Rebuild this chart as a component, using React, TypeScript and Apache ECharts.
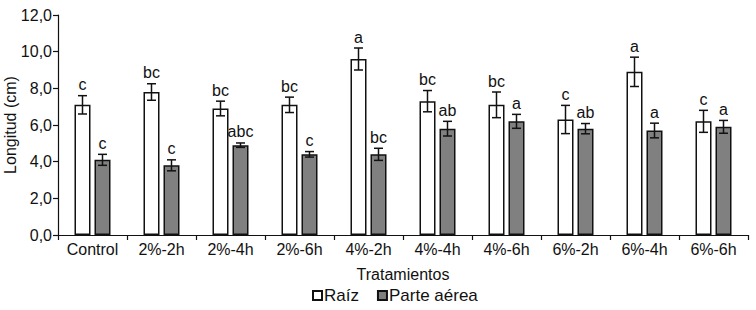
import React, { useEffect, useRef } from "react";
import * as echarts from "echarts";

const categories = ["Control", "2%-2h", "2%-4h", "2%-6h", "4%-2h", "4%-4h", "4%-6h", "6%-2h", "6%-4h", "6%-6h"];
const raiz = [7.1, 7.8, 6.9, 7.1, 9.6, 7.3, 7.1, 6.3, 8.9, 6.2];
const raizErr = [0.5, 0.45, 0.4, 0.42, 0.6, 0.58, 0.7, 0.77, 0.8, 0.6];
const raizLetters = ["c", "bc", "bc", "bc", "a", "bc", "bc", "c", "a", "c"];
const aerea = [4.1, 3.8, 4.9, 4.4, 4.4, 5.8, 6.2, 5.8, 5.7, 5.9];
const aereaErr = [0.3, 0.3, 0.12, 0.15, 0.33, 0.4, 0.38, 0.28, 0.4, 0.35];
const aereaLetters = ["c", "c", "abc", "c", "bc", "ab", "a", "ab", "a", "a"];
const yTicks = [0, 2, 4, 6, 8, 10, 12];

const FONT = "'Liberation Sans', Arial, sans-serif";
const FS = 16;
const TXT = "#111";

function errSeries(vals: number[], errs: number[], letters: string[], offset: number) {
  return {
    type: "custom",
    silent: true,
    z: 10,
    data: vals.map((v, i) => [i, v, errs[i]]),
    renderItem: (params: any, api: any) => {
      const cat = api.value(0);
      const v = api.value(1);
      const e = api.value(2);
      const x = api.coord([cat, v])[0] + offset;
      const yt = api.coord([cat, v + e])[1];
      const yb = api.coord([cat, v - e])[1];
      const cap = 4.5;
      const ls = { stroke: "#111", lineWidth: 1.5 };
      return {
        type: "group",
        children: [
          { type: "line", shape: { x1: x, y1: yt, x2: x, y2: yb }, style: ls },
          { type: "line", shape: { x1: x - cap, y1: yt, x2: x + cap, y2: yt }, style: ls },
          { type: "line", shape: { x1: x - cap, y1: yb, x2: x + cap, y2: yb }, style: ls },
          {
            type: "text",
            x: x,
            y: yt - 3,
            style: {
              text: letters[params.dataIndex],
              fontFamily: FONT,
              fontSize: FS,
              fill: TXT,
              align: "center",
              verticalAlign: "bottom",
            },
          },
        ],
      };
    },
  };
}

export default function App() {
  const ref = useRef<HTMLDivElement>(null);
  useEffect(() => {
    document.body.style.margin = "0";
    const chart = echarts.init(ref.current!, undefined, { renderer: "svg" });
    chart.setOption({
      animation: false,
      backgroundColor: "#fff",
      textStyle: { fontFamily: FONT },
      grid: { left: 58, right: 8, top: 15, bottom: 75, containLabel: false, outerBoundsMode: "none" },
      legend: {
        top: 285,
        left: 307,
        padding: [2, 5, 2, 5],
        itemWidth: 9,
        itemHeight: 9,
        itemGap: 18,
        icon: "rect",
        textStyle: { fontFamily: FONT, fontSize: 17, color: TXT, padding: [0, 0, 0, -3] },
        data: ["Raíz", "Parte aérea"],
      },
      xAxis: {
        type: "category",
        data: categories,
        name: "Tratamientos",
        nameLocation: "middle",
        nameGap: 31,
        nameMoveOverlap: false,
        nameTextStyle: { fontFamily: FONT, fontSize: FS, color: TXT },
        axisLine: { lineStyle: { color: "#111", width: 1.2 } },
        axisTick: { show: true, length: 5, lineStyle: { color: "#111", width: 1.2 } },
        axisLabel: { fontFamily: FONT, fontSize: FS, color: TXT, margin: 6 },
        splitLine: { show: false },
      },
      yAxis: {
        type: "value",
        min: yTicks[0],
        max: yTicks[yTicks.length - 1],
        interval: 2,
        name: "Longitud (cm)",
        nameLocation: "middle",
        nameGap: 40,
        nameMoveOverlap: false,
        nameTextStyle: { fontFamily: FONT, fontSize: FS, color: TXT },
        axisLine: { show: true, lineStyle: { color: "#111", width: 1.2 } },
        axisTick: { show: true, length: 5, lineStyle: { color: "#111", width: 1.2 } },
        axisLabel: {
          fontFamily: FONT,
          fontSize: FS,
          color: TXT,
          margin: 6,
          formatter: (v: number) => v.toFixed(1).replace(".", ","),
        },
        splitLine: { show: false },
      },
      series: [
        {
          name: "Raíz",
          type: "bar",
          data: raiz,
          barWidth: 16,
          barGap: "25%",
          itemStyle: { color: "#ffffff", borderColor: "#111", borderWidth: 1.5 },
        },
        {
          name: "Parte aérea",
          type: "bar",
          data: aerea,
          barWidth: 16,
          itemStyle: { color: "#808080", borderColor: "#111", borderWidth: 1.5 },
        },
        errSeries(raiz, raizErr, raizLetters, -10),
        errSeries(aerea, aereaErr, aereaLetters, 10),
      ],
    });
    return () => chart.dispose();
  }, []);
  return <div ref={ref} style={{ width: 756, height: 310 }} />;
}
